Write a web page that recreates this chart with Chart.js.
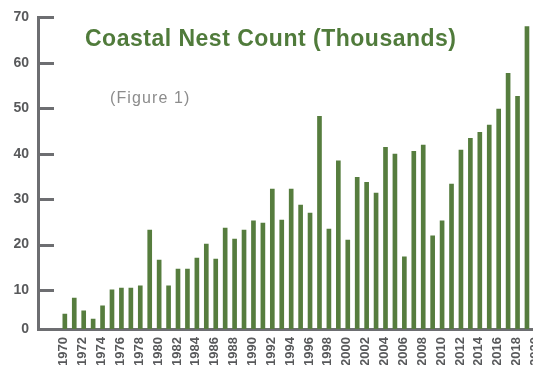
<!DOCTYPE html>
<html>
<head>
<meta charset="utf-8">
<script src="https://cdn.jsdelivr.net/npm/chart.js@4"></script>
<style>
  html, body { margin: 0; padding: 0; background: #fff; }
  #wrap { position: relative; width: 533px; height: 365px; overflow: hidden; }
  #chart { position: absolute; left: 0; top: 0; }
  .title { position: absolute; left: 85px; top: 27px; font: bold 23px/23px "Liberation Sans", Arial, sans-serif; letter-spacing: 0.5px; color: #507b3b; white-space: nowrap; }
  .sub { position: absolute; left: 110px; top: 90px; font: 16px/16px "Liberation Sans", Arial, sans-serif; letter-spacing: 1.1px; color: #8c8c8c; white-space: nowrap; }
</style>
</head>
<body>
<div id="wrap">
  <canvas id="chart" width="560" height="380"></canvas>
  <div class="title">Coastal Nest Count (Thousands)</div>
  <div class="sub">(Figure 1)</div>
</div>
<script>
// nest counts, thousands
var years = [1970, 1971, 1972, 1973, 1974, 1975, 1976, 1977, 1978, 1979,
             1980, 1981, 1982, 1983, 1984, 1985, 1986, 1987, 1988, 1989,
             1990, 1991, 1992, 1993, 1994, 1995, 1996, 1997, 1998, 1999,
             2000, 2001, 2002, 2003, 2004, 2005, 2006, 2007, 2008, 2009,
             2010, 2011, 2012, 2013, 2014, 2015, 2016, 2017, 2018, 2019];
var nests = [4.7, 8.2, 5.4, 3.6, 6.5, 10.0, 10.4, 10.4, 10.9, 23.2,
             16.6, 10.9, 14.6, 14.6, 17.0, 20.1, 16.8, 23.6, 21.2, 23.2,
             25.2, 24.7, 32.2, 25.4, 32.2, 28.7, 26.9, 48.2, 23.4, 38.4,
             21.0, 34.8, 33.7, 31.3, 41.4, 39.9, 17.3, 40.5, 41.9, 21.9,
             25.2, 33.3, 40.8, 43.4, 44.7, 46.3, 49.8, 57.7, 52.6, 68.0];
var xTickLabels = ['1970', '1972', '1974', '1976', '1978', '1980', '1982', '1984', '1986',
                   '1988', '1990', '1992', '1994', '1996', '1998', '2000', '2002', '2004',
                   '2006', '2008', '2010', '2012', '2014', '2016', '2018', '2020'];
var yTickLabels = ['0', '10', '20', '30', '40', '50', '60', '70'];

var barColor = '#567d3e';
var axisColor = '#6d6e71';
var labelColor = '#58595b';
var yBase = 1.4; // axis line sits a little above true zero in the original

var points = [];
for (var i = 0; i < years.length; i++) {
    points.push({ x: years[i], y: nests[i] });
}

// short tick marks pointing into the plot from the y axis
var innerTicks = {
    id: 'innerTicks',
    afterDatasetsDraw: function (chart) {
        var y = chart.scales.y;
        var ctx = chart.ctx;
        ctx.save();
        ctx.strokeStyle = axisColor;
        ctx.lineWidth = 3;
        y.ticks.forEach(function (t) {
            var py = Math.round(y.getPixelForValue(t.value)) + 0.5;
            ctx.beginPath();
            ctx.moveTo(chart.chartArea.left, py);
            ctx.lineTo(chart.chartArea.left + 16, py);
            ctx.stroke();
        });
        ctx.restore();
    }
};

var ctx = document.getElementById('chart').getContext('2d');
var myChart = new Chart(ctx, {
    type: 'bar',
    data: {
        datasets: [{
            label: 'Nests',
            data: points,
            backgroundColor: barColor,
            barThickness: 4
        }]
    },
    options: {
        responsive: false,
        animation: false,
        layout: { padding: { top: 17, right: 0, bottom: 0, left: 0 } },
        plugins: { legend: { display: false }, tooltip: { enabled: false } },
        scales: {
            x: {
                type: 'linear',
                offset: false,
                min: 1967.155,
                max: 2021.8,
                grid: { display: false, drawTicks: false, offset: false },
                border: { display: true, color: axisColor, width: 3 },
                afterBuildTicks: function (scale) {
                    scale.ticks = xTickLabels.map(function (l) { return { value: Number(l) }; });
                },
                afterFit: function (scale) {
                    scale.height = 51;
                },
                ticks: {
                    autoSkip: false,
                    minRotation: 90,
                    maxRotation: 90,
                    padding: 8,
                    labelOffset: -1,
                    color: labelColor,
                    font: { family: '"Liberation Sans", Arial, sans-serif', size: 13, weight: 'bold' },
                    callback: function (v) { return String(v); }
                }
            },
            y: {
                min: yBase,
                max: 70,
                grid: { display: false, drawTicks: false },
                border: { display: true, color: axisColor, width: 3 },
                afterBuildTicks: function (scale) {
                    scale.ticks = yTickLabels.map(function (l) {
                        var v = Number(l);
                        return { value: v === 0 ? yBase : v };
                    });
                },
                afterFit: function (scale) { scale.width = 38; },
                ticks: {
                    padding: 9,
                    color: labelColor,
                    font: { family: '"Liberation Sans", Arial, sans-serif', size: 14, weight: 'bold' },
                    callback: function (v) { return v === yBase ? '0' : String(v); }
                }
            }
        }
    },
    plugins: [innerTicks]
});
</script>
</body>
</html>
